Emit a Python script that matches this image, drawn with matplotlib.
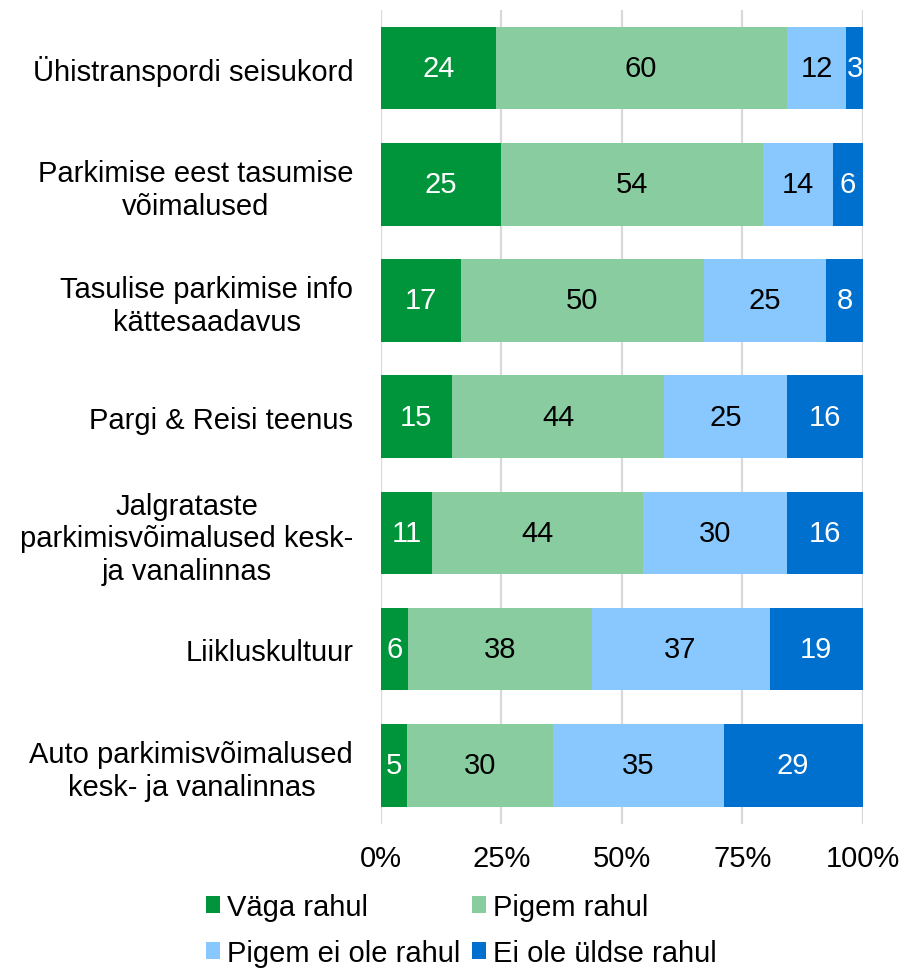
import numpy as np
import matplotlib
matplotlib.use("Agg")
import matplotlib.pyplot as plt

plt.rcParams['font.family'] = ['Liberation Sans', 'DejaVu Sans']

categories = ['Ühistranspordi seisukord',
              'Parkimise eest tasumise\nvõimalused',
              'Tasulise parkimise info\nkättesaadavus',
              'Pargi & Reisi teenus',
              'Jalgrataste\nparkimisvõimalused kesk-\nja vanalinnas',
              'Liikluskultuur',
              'Auto parkimisvõimalused\nkesk- ja vanalinnas']

vaga_rahul = [23.8, 25.0, 16.6, 14.7, 10.6, 5.6, 5.3]
pigem_rahul = [60.4, 54.4, 50.4, 44.1, 43.7, 38.1, 30.4]
pigem_ei = [12.4, 14.4, 25.4, 25.4, 29.9, 37.0, 35.4]
ei_ule = [3.4, 6.2, 7.6, 15.8, 15.8, 19.3, 28.9]

labels_shown = [[24, 25, 17, 15, 11, 6, 5],
                [60, 54, 50, 44, 44, 38, 30],
                [12, 14, 25, 25, 30, 37, 35],
                [3, 6, 8, 16, 16, 19, 29]]

series_names = ['Väga rahul', 'Pigem rahul', 'Pigem ei ole rahul', 'Ei ole üldse rahul']
colors = ['#00953A', '#88CCA0', '#88C8FF', '#0070CE']
text_colors = ['white', 'black', 'black', 'white']

fig = plt.figure(figsize=(9.03, 9.70), dpi=100)
ax = fig.add_axes([0.4219, 0.1499, 0.9554 - 0.4219, 0.9888 - 0.1499])

y = np.arange(len(categories))
left = np.zeros(len(categories))
handles = []
for vals, col, tc, labs, name in zip([vaga_rahul, pigem_rahul, pigem_ei, ei_ule],
                                      colors, text_colors, labels_shown, series_names):
    vals = np.array(vals)
    b = ax.barh(y, vals, left=left, height=0.71, color=col, label=name, zorder=3)
    handles.append(b)
    for yi, l, v, t in zip(y, left, vals, labs):
        ax.text(l + v / 2, yi, str(t), ha='center', va='center', color=tc,
                fontsize=21, zorder=4)
    left = left + vals

ax.set_xlim(0, 100)
ax.set_ylim(len(categories) - 0.5, -0.5)
ax.set_xticks([0, 25, 50, 75, 100])
ax.set_xticklabels(['0%', '25%', '50%', '75%', '100%'], fontsize=21)
ax.set_yticks(y)
ax.set_yticklabels(categories, fontsize=21, multialignment='center')
ax.tick_params(axis='both', length=0)
ax.tick_params(axis='y', pad=20)
ax.tick_params(axis='x', pad=15)
ax.grid(axis='x', color='#D9D9D9', linewidth=1.6, zorder=0)
for s in ax.spines.values():
    s.set_visible(False)

# legend goes row by row: Väga / Pigem rahul, then the two "not satisfied"
order = [0, 2, 1, 3]
fig.legend([handles[i] for i in order], [series_names[i] for i in order],
           ncol=2, loc='upper left', bbox_to_anchor=(0.228, 0.0785),
           frameon=False, fontsize=21, handlelength=0.48, handleheight=0.48,
           handletextpad=0.24, columnspacing=0.4, labelspacing=0.62, borderpad=0,
           borderaxespad=0)

fig.savefig('out.png', dpi=100)
